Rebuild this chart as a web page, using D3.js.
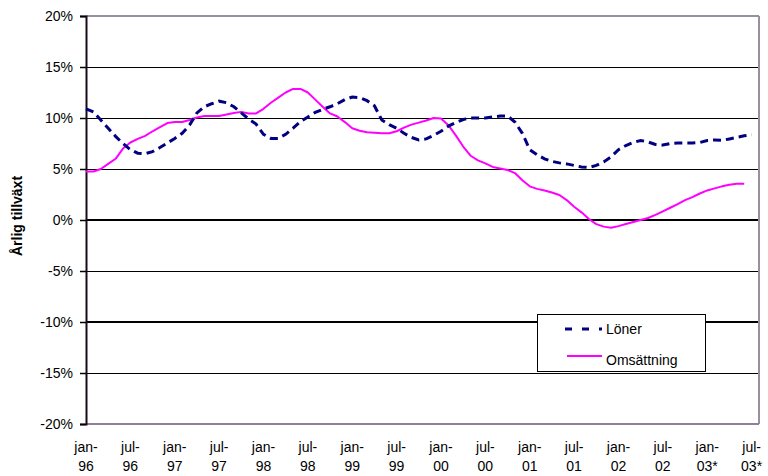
<!DOCTYPE html>
<html><head><meta charset="utf-8">
<script src="https://cdn.jsdelivr.net/npm/d3@7"></script>
<style>body{margin:0;background:#fff}svg{display:block;font-family:"Liberation Sans",Arial,sans-serif}</style>
</head><body><svg id="c" width="768" height="476"></svg>
<script>
// Monthly categories jan-96 .. aug-03
const months = ["jan","feb","mar","apr","maj","jun","jul","aug","sep","okt","nov","dec"];
const categories = [];
for (let y = 96; y <= 103; y++) for (let m = 0; m < 12; m++) {
  if (y === 103 && m > 7) break;
  const yy = String(y % 100).padStart(2, "0");
  categories.push(months[m] + "-" + yy + (y === 103 ? "*" : ""));
}
const loner = [10.9,10.6,9.8,9.0,8.2,7.5,6.9,6.55,6.5,6.7,7.1,7.55,
  8.0,8.5,9.3,10.5,11.1,11.4,11.65,11.5,11.1,10.5,9.9,9.4,
  8.4,8.0,8.0,8.4,9.0,9.65,10.1,10.55,10.85,11.1,11.4,11.8,
  12.05,12.0,11.7,11.2,9.8,9.35,9.0,8.5,8.1,7.85,7.95,8.3,
  8.7,9.2,9.55,9.85,10.0,10.0,10.0,10.1,10.2,10.2,9.6,8.5,
  6.9,6.4,6.0,5.75,5.6,5.5,5.35,5.2,5.15,5.35,5.7,6.2,
  6.9,7.3,7.6,7.8,7.65,7.4,7.35,7.5,7.55,7.55,7.55,7.6,
  7.8,7.85,7.8,7.95,8.1,8.25,8.35];
const omsattning = [4.75,4.75,5.0,5.5,6.0,7.0,7.6,7.95,8.25,8.7,9.1,9.5,
  9.6,9.6,9.8,10.05,10.2,10.2,10.2,10.35,10.5,10.6,10.45,10.45,
  10.9,11.5,12.0,12.5,12.85,12.85,12.5,11.8,11.1,10.45,10.15,9.6,
  9.0,8.75,8.6,8.55,8.5,8.5,8.7,9.05,9.35,9.55,9.75,10.0,
  9.95,9.3,8.3,7.2,6.3,5.85,5.55,5.2,5.05,4.9,4.6,3.9,
  3.3,3.05,2.9,2.7,2.45,1.95,1.3,0.75,0.1,-0.4,-0.65,-0.75,
  -0.6,-0.4,-0.2,0.0,0.2,0.5,0.85,1.2,1.55,1.95,2.25,2.6,
  2.9,3.1,3.3,3.45,3.55,3.55];
const yTicks = [20,15,10,5,0,-5,-10,-15,-20];
const yTickLabels = ["20%","15%","10%","5%","0%","-5%","-10%","-15%","-20%"];
const xTickLabels = [["jan-","96"],["jul-","96"],["jan-","97"],["jul-","97"],["jan-","98"],["jul-","98"],["jan-","99"],["jul-","99"],["jan-","00"],["jul-","00"],["jan-","01"],["jul-","01"],["jan-","02"],["jul-","02"],["jan-","03*"],["jul-","03*"]];
const seriesNames = ["Löner","Omsättning"];

const L = 86, R = 759, T = 16, B = 424;
const svg = d3.select("#c");
const x = d3.scalePoint().domain(categories).range([L, R]);
const y = d3.scaleLinear().domain([-20, 20]).range([B, T]);

// gridlines
svg.append("g").selectAll("line").data(yTicks.filter(v => v > -20 && v < 20)).join("line")
  .attr("x1", L).attr("x2", R).attr("y1", d => y(d)).attr("y2", d => y(d))
  .attr("stroke", "#000").attr("stroke-width", d => (d === 0 || d === -10) ? 2 : 1)
  .attr("shape-rendering", "crispEdges");

// border
svg.append("line").attr("x1", L).attr("x2", R).attr("y1", T).attr("y2", T).attr("stroke", "#9a8fa0").attr("stroke-width", 2);
svg.append("line").attr("x1", R).attr("x2", R).attr("y1", T).attr("y2", B).attr("stroke", "#9a8fa0").attr("stroke-width", 2);
svg.append("line").attr("x1", L).attr("x2", R).attr("y1", B).attr("y2", B).attr("stroke", "#8f7f99").attr("stroke-width", 2);

// y axis
const yAxis = d3.axisLeft(y).tickValues(yTicks).tickSize(6).tickPadding(7)
  .tickFormat((d, i) => yTickLabels[i]);
const gy = svg.append("g").attr("transform", `translate(${L},0)`).call(yAxis);
gy.select(".domain").attr("stroke", "#1a0a1a").attr("stroke-width", 2);
gy.selectAll(".tick line").attr("stroke", "#000").attr("stroke-width", 1.5);
gy.selectAll("text").attr("font-size", 14).attr("fill", "#000").attr("font-family", "Liberation Sans, Arial, sans-serif");

// x labels
const xLabelCats = categories.filter((c, i) => i % 6 === 0);
const gx = svg.append("g");
xLabelCats.forEach((c, i) => {
  const t = gx.append("text").attr("text-anchor", "middle").attr("font-size", 14).attr("fill", "#000");
  t.append("tspan").attr("x", x(c)).attr("y", 452).text(xTickLabels[i][0]);
  t.append("tspan").attr("x", x(c)).attr("y", 471).text(xTickLabels[i][1]);
});

// axis title
svg.append("text").attr("transform", "translate(22,216) rotate(-90)").attr("text-anchor", "middle")
  .attr("font-size", 14).attr("font-weight", "bold").text("Årlig tillväxt");

// lines
const line = d3.line().x((d, i) => x(categories[i])).y(d => y(d)).curve(d3.curveLinear);
svg.append("path").datum(omsattning).attr("d", line).attr("fill", "none")
  .attr("stroke", "#ff00ff").attr("stroke-width", 2).attr("stroke-linejoin", "round");
svg.append("path").datum(loner).attr("d", line).attr("fill", "none")
  .attr("stroke", "#000080").attr("stroke-width", 3).attr("stroke-dasharray", "8,5");

// legend
const lg = svg.append("g");
lg.append("rect").attr("x", 537.5).attr("y", 314.5).attr("width", 168).attr("height", 57)
  .attr("fill", "#fff").attr("stroke", "#000").attr("stroke-width", 1);
lg.append("line").attr("x1", 565).attr("x2", 602).attr("y1", 329).attr("y2", 329)
  .attr("stroke", "#000080").attr("stroke-width", 3).attr("stroke-dasharray", "7,10");
lg.append("line").attr("x1", 567).attr("x2", 602).attr("y1", 356).attr("y2", 356)
  .attr("stroke", "#ff00ff").attr("stroke-width", 2);
lg.append("text").attr("x", 606).attr("y", 334).attr("font-size", 14).text(seriesNames[0]);
lg.append("text").attr("x", 606).attr("y", 365).attr("font-size", 14).text(seriesNames[1]);
</script></body></html>
